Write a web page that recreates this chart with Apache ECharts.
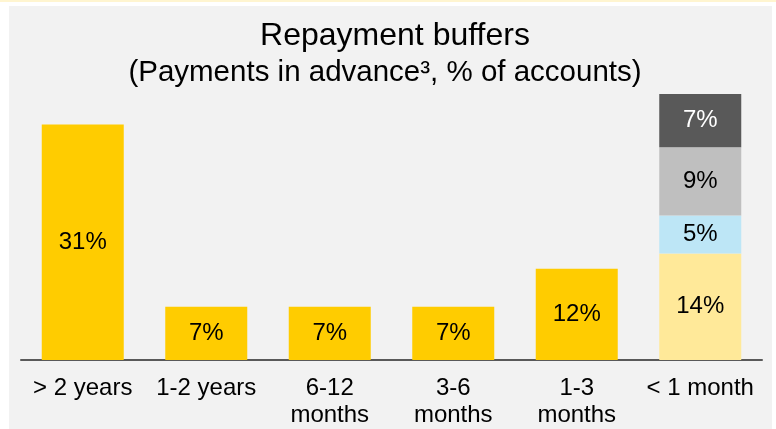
<!DOCTYPE html>
<html>
<head>
<meta charset="utf-8">
<script src="https://cdn.jsdelivr.net/npm/echarts@6/dist/echarts.min.js"></script>
<style>
  html, body { margin: 0; padding: 0; background: #ffffff; }
  #chart { width: 776px; height: 429px; }
</style>
</head>
<body>
<div id="chart"></div>
<script>
// Buffer buckets along the x axis
const categories = ['> 2 years', '1-2 years', '6-12\nmonths', '3-6\nmonths', '1-3\nmonths', '< 1 month'];

// Share of accounts (%) for the first five buckets
const mainValues = [31, 7, 7, 7, 12, null];

// Breakdown of the "< 1 month" bucket, bottom to top
const underOneMonthLabels = ['part1', 'part2', 'part3', 'part4'];
const underOneMonthValues = [14, 5, 9, 7];
const underOneMonthColors = ['#FFE999', '#BDE6F6', '#BFBFBF', '#595959'];
const underOneMonthText = ['#000000', '#000000', '#000000', '#ffffff'];

const FONT = '"Liberation Sans", Arial, sans-serif';

const chart = echarts.init(document.getElementById('chart'), null, { renderer: 'canvas' });

const lastIdx = categories.length - 1;

const labelStyle = (color) => ({
  show: true,
  position: 'inside',
  formatter: (p) => p.value + '%',
  fontFamily: FONT,
  fontSize: 24,
  color: color
});

const series = [{
  name: 'main',
  type: 'bar',
  stack: 'total',
  barWidth: 82,
  data: mainValues.map(v => (v == null ? '-' : v)),
  itemStyle: { color: '#FFCC00' },
  label: labelStyle('#000000'),
  silent: true
}];

underOneMonthValues.forEach((v, i) => {
  const data = categories.map((_, k) => (k === lastIdx ? v : '-'));
  series.push({
    name: underOneMonthLabels[i],
    type: 'bar',
    stack: 'total',
    barWidth: 82,
    data: data,
    itemStyle: { color: underOneMonthColors[i] },
    label: labelStyle(underOneMonthText[i]),
    silent: true
  });
});

chart.setOption({
  animation: false,
  backgroundColor: '#ffffff',
  graphic: [
    { type: 'rect', z: -10, shape: { x: 0, y: 0, width: 776, height: 2 }, style: { fill: '#FFF5D0' } },
    { type: 'rect', z: -10, shape: { x: 9, y: 6, width: 763, height: 423 }, style: { fill: '#F2F2F2' } }
  ],
  title: [
    {
      text: 'Repayment buffers',
      left: 390,
      top: 14,
      textAlign: 'center',
      textStyle: { fontFamily: FONT, fontSize: 32, fontWeight: 'normal', color: '#000000', lineHeight: 35 }
    },
    {
      text: '(Payments in advance³, % of accounts)',
      left: 380,
      top: 51,
      textAlign: 'center',
      textStyle: { fontFamily: FONT, fontSize: 29.5, fontWeight: 'normal', color: '#000000', lineHeight: 33 }
    }
  ],
  grid: { left: 21, right: 14, top: 94, bottom: 69, containLabel: false },
  xAxis: {
    type: 'category',
    data: categories,
    axisLine: { show: true, lineStyle: { color: '#595959', width: 2 } },
    axisTick: { show: false },
    axisLabel: {
      interval: 0,
      margin: 15,
      fontFamily: FONT,
      fontSize: 24,
      lineHeight: 27,
      color: '#000000'
    }
  },
  yAxis: {
    type: 'value',
    min: 0,
    max: 35,
    show: false,
    splitLine: { show: false }
  },
  series: series
});
</script>
</body>
</html>
